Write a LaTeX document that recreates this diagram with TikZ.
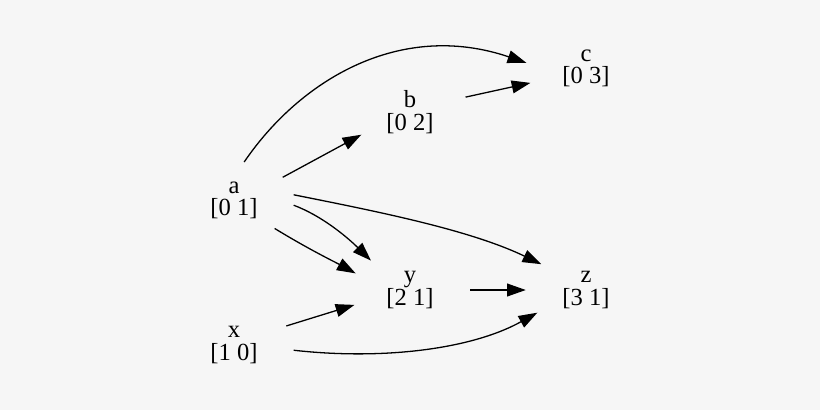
\documentclass[tikz,border=0pt]{standalone}
\usepackage{fontspec}
\setmainfont{Liberation Serif}
\usetikzlibrary{arrows.meta,shapes.geometric}
\begin{document}
\begin{tikzpicture}[x=0.03cm,y=-0.03cm,
  nd/.style={ellipse,minimum width=3.6cm,minimum height=2.3cm,inner sep=0pt,align=center,font=\fontsize{21}{19}\selectfont},
  ed/.style={draw,line width=1.1pt,-{Triangle[length=16pt,width=11pt]}}]
\fill[fill={rgb,255:red,246;green,246;blue,246}] (0,0) rectangle (820,410);
\useasboundingbox (0,0) rectangle (820,410);
\node[nd] (a) at (234,200) {a\\{}[0 1]};
\node[nd] (b) at (410,112) {b\\{}[0 2]};
\node[nd] (c) at (586,68) {c\\{}[0 3]};
\node[nd] (y) at (410,290) {y\\{}[2 1]};
\node[nd] (z) at (586,290) {z\\{}[3 1]};
\node[nd] (x) at (234,345) {x\\{}[1 0]};
\path[ed] (a.75) .. controls (300,80) and (400,20) .. (c.175);
\path[ed] (a.25) -- (b.205);
\path[ed] (b.15) -- (c.195);
\path[ed] (a.355) .. controls (320,215) and (345,235) .. (y.143);
\path[ed] (a.325) .. controls (310,250) and (335,262) .. (y.163);
\path[ed] (a.5) .. controls (380,212) and (470,230) .. (z.150);
\path[ed] (y.0) -- (z.180);
\path[ed] (x.20) -- (y.195);
\path[ed] (x.355) .. controls (380,360) and (470,350) .. (z.205);
\end{tikzpicture}
\end{document}
